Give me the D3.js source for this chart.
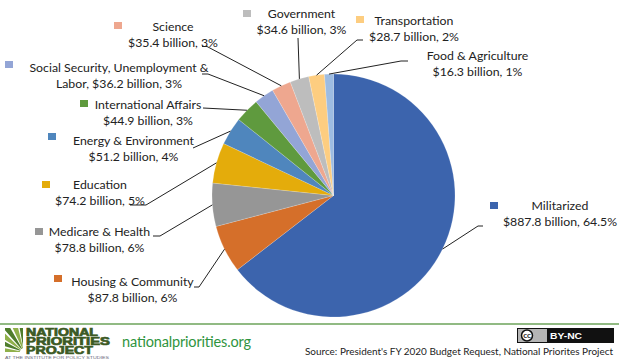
<!DOCTYPE html>
<html>
<head>
<meta charset="utf-8">
<script src="https://cdn.jsdelivr.net/npm/d3@7"></script>
<style>
html, body { margin: 0; padding: 0; background: #fff; }
svg { display: block; }
text { font-family: Lato, sans-serif; fill: #222; }
</style>
</head>
<body>
<svg></svg>
<script>
const categories = ['Militarized', 'Housing & Community', 'Medicare & Health', 'Education', 'Energy & Environment', 'International Affairs', 'Social Security, Unemployment & Labor', 'Science', 'Government', 'Transportation', 'Food & Agriculture'];
const values = [887.8, 87.8, 78.8, 74.2, 51.2, 44.9, 36.2, 35.4, 34.6, 28.7, 16.3];
const percents = ['64.5%', '6%', '6%', '5%', '4%', '3%', '3%', '3%', '3%', '2%', '1%'];
const colors = ['#3c64ad', '#d56f2a', '#969696', '#e4ac0b', '#4f86bd', '#5f9a3e', '#93a5d6', '#eea78f', '#bdbdbd', '#fdcd80', '#9dbce2'];

const svg = d3.select('svg').attr('width', 619).attr('height', 359);
const width = +svg.attr('width');

// label layout, same order as categories
// c = centre x, y = first baseline, key = swatch, elbow = leader line before it reaches the pie
const layout = [
    {c: 560, y: 210, key: [490, 202], elbow: [[483, 226], [478, 226]]},
    {c: 132.5, y: 286, key: [54, 275], elbow: [[194, 287], [199, 287]]},
    {c: 99.5, y: 236, key: [35, 228], elbow: [[153, 236], [160, 236]]},
    {c: 100, y: 189, key: [42, 181], elbow: [[130, 205], [146, 205]]},
    {c: 133.5, y: 145, key: [48, 133], elbow: [[193, 148]]},
    {c: 148, y: 109, key: [80, 100], elbow: [[203, 108]]},
    {c: 119, y: 72, key: [5, 61], elbow: [[202, 74], [208, 74]]},
    {c: 173, y: 31, key: [114, 22], elbow: [[202, 46.5], [207, 46.5]]},
    {c: 301.5, y: 18, key: [243, 10], elbow: [[298, 38]]},
    {c: 414, y: 25, key: [356, 16], elbow: [[363, 40], [357, 40]]},
    {c: 477.5, y: 60, key: null, elbow: [[408, 61], [401, 61]]}
];

// social security wraps differently from the others
const labelRows = (name, i) => {
    const tail = '$' + values[i] + ' billion, ' + percents[i];
    if (i === 6) return ['Social Security, Unemployment &', 'Labor, ' + tail];
    return [name, tail];
};

const radius = 121.5;
const cx = 333.5;
const cy = 195.5;

const pie = d3.pie().sort(null)(values);
const arc = d3.arc().innerRadius(0).outerRadius(radius);
const edge = d3.arc().innerRadius(radius).outerRadius(radius);

const g = svg.append('g').attr('transform', 'translate(' + cx + ',' + cy + ')');

g.selectAll('path').data(pie)
    .enter().append('path')
    .attr('d', arc)
    .attr('fill', (d, i) => colors[i])
    .attr('stroke', '#fff')
    .attr('stroke-opacity', 0.35)
    .attr('stroke-width', 0.5);

// leader lines
const line = d3.line();
svg.append('g').selectAll('path').data(pie)
    .enter().append('path')
    .attr('fill', 'none')
    .attr('stroke', '#222')
    .attr('stroke-width', 1)
    .attr('d', (d, i) => {
        const p = edge.centroid(d);
        return line(layout[i].elbow.concat([[p[0] + cx, p[1] + cy]]));
    });

// labels
const label = svg.append('g').selectAll('g').data(categories)
    .enter().append('g');

label.each(function (name, i) {
    const row = layout[i];
    d3.select(this).selectAll('text').data(labelRows(name, i))
        .enter().append('text')
        .attr('x', row.c)
        .attr('y', (t, j) => row.y + j * 16)
        .attr('text-anchor', 'middle')
        .attr('font-size', 12.3)
        .text(t => t);
    if (row.key) {
        d3.select(this).append('rect')
            .attr('x', row.key[0])
            .attr('y', row.key[1])
            .attr('width', 8)
            .attr('height', 7)
            .attr('fill', colors[i]);
    }
});

// footer rule
svg.append('line')
    .attr('x1', 0).attr('x2', width)
    .attr('y1', 324).attr('y2', 324)
    .attr('stroke', '#6da35a')
    .attr('stroke-width', 1.5);

// logo, rays fan out from the lower right of the emblem
const logo = svg.append('g');
logo.append('clipPath').attr('id', 'emblem')
    .append('rect').attr('x', 5).attr('y', 328).attr('width', 18).attr('height', 27);
const rayAngles = [-1.57, -1.28, -1.0, -0.72, -0.44, -0.18];
logo.append('g').attr('clip-path', 'url(#emblem)')
    .selectAll('path').data(rayAngles)
    .enter().append('path')
    .attr('transform', 'translate(24,352)')
    .attr('fill', (d, i) => i % 2 ? '#4f7d2c' : '#8fb04a')
    .attr('d', d => d3.arc().innerRadius(4).outerRadius(40).startAngle(d).endAngle(d + 0.2)());
const logoLines = ['NATIONAL', 'PRIORITIES', 'PROJECT'];
const logoWidths = [72, 84, 67];
logo.selectAll('text.name').data(logoLines)
    .enter().append('text')
    .attr('class', 'name')
    .attr('x', 26)
    .attr('y', (d, i) => 336 + i * 9.2)
    .attr('textLength', (d, i) => logoWidths[i])
    .attr('lengthAdjust', 'spacingAndGlyphs')
    .style('font-family', '"Liberation Sans", sans-serif')
    .style('fill', '#3c5a24')
    .attr('font-weight', 700)
    .attr('font-size', 10.5)
    .attr('stroke', '#3c5a24')
    .attr('stroke-width', 0.7)
    .text(d => d);
logo.append('text')
    .attr('x', 5).attr('y', 358.6)
    .attr('textLength', 104)
    .attr('lengthAdjust', 'spacingAndGlyphs')
    .style('font-family', '"Liberation Sans", sans-serif')
    .style('fill', '#667')
    .attr('font-size', 3.5)
    .text('AT THE INSTITUTE FOR POLICY STUDIES');

svg.append('text')
    .attr('x', 122).attr('y', 347)
    .attr('font-size', 14.5)
    .attr('textLength', 129)
    .style('fill', '#2f9440')
    .text('nationalpriorities.org');

// cc badge
svg.append('rect').attr('x', 517).attr('y', 328).attr('width', 97).attr('height', 15).attr('fill', '#111');
svg.append('rect').attr('x', 518).attr('y', 329).attr('width', 29).attr('height', 13).attr('fill', '#b5b5b5');
svg.append('circle').attr('cx', 527).attr('cy', 335.5).attr('r', 5.5).attr('fill', '#fff').attr('stroke', '#111').attr('stroke-width', 1.5);
svg.append('text').attr('x', 527).attr('y', 338.3).attr('text-anchor', 'middle')
    .attr('font-size', 8).attr('font-weight', 700).text('cc');
svg.append('text').attr('x', 550).attr('y', 339)
    .attr('textLength', 32)
    .attr('lengthAdjust', 'spacingAndGlyphs')
    .style('font-family', '"Liberation Sans", sans-serif')
    .style('fill', '#fff')
    .attr('font-size', 9.5).attr('font-weight', 700)
    .text('BY-NC');

svg.append('text')
    .attr('x', 305).attr('y', 355)
    .attr('font-size', 9.9)
    .attr('textLength', 308)
    .attr('lengthAdjust', 'spacingAndGlyphs')
    .text("Source: President's FY 2020 Budget Request, National Priorites Project");
</script>
</body>
</html>
